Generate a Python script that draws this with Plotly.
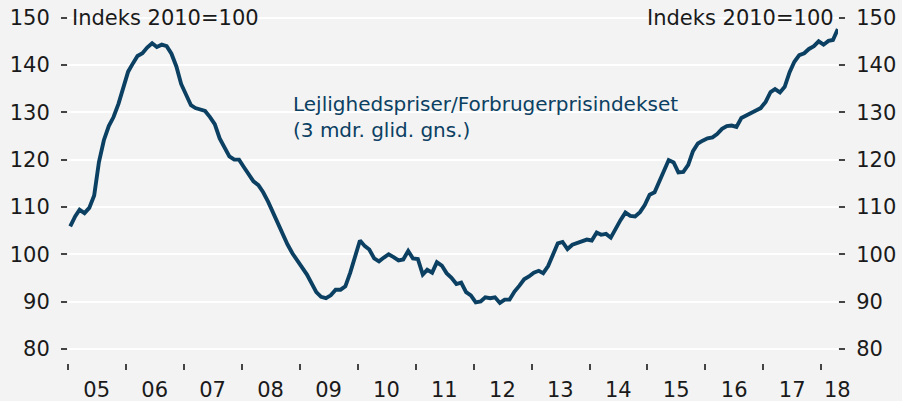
import plotly.graph_objects as go

# Lejlighedspriser / forbrugerprisindekset, 3 mdr. glid. gns., indeks 2010=100
# one value per month, jan 2005 - apr 2018
start_year = 2005
values = [
    105.9, 108.0, 109.4, 108.7, 109.8, 112.4, 119.5, 124.1, 127.1, 129.0, 131.8, 134.9,  # 2005
    138.6, 140.4, 141.9, 142.5, 143.7, 144.6, 143.8, 144.3, 144.0, 142.4, 139.7, 136.0,  # 2006
    133.6, 131.5, 130.9, 130.5, 130.3, 129.0, 127.5, 124.5, 122.5, 120.7, 120.0, 120.0,  # 2007
    118.4, 116.8, 115.4, 114.6, 113.1, 111.1, 108.8, 106.4, 104.3, 102.1, 100.2, 98.6,   # 2008
    97.2, 95.7, 93.8, 92.0, 91.0, 90.7, 91.3, 92.5, 92.5, 93.2, 96.1, 99.6,              # 2009
    102.9, 101.7, 101.0, 99.1, 98.5, 99.3, 100.0, 99.4, 98.7, 98.9, 100.7, 99.1,         # 2010
    99.0, 95.7, 96.7, 96.1, 98.3, 97.6, 96.0, 95.0, 93.7, 94.0, 92.0, 91.3,              # 2011
    89.8, 90.0, 90.9, 90.7, 90.9, 89.7, 90.4, 90.4, 92.1, 93.3, 94.7, 95.3,              # 2012
    96.1, 96.5, 96.0, 97.5, 100.0, 102.3, 102.6, 101.1, 102.0, 102.3, 102.6, 103.1,      # 2013
    102.9, 104.6, 104.1, 104.3, 103.5, 105.5, 107.2, 108.8, 108.1, 108.0, 108.9, 110.4,  # 2014
    112.6, 113.1, 115.1, 117.5, 119.9, 119.4, 117.3, 117.4, 118.9, 121.8, 123.4, 124.0,  # 2015
    124.5, 124.7, 125.4, 126.5, 127.1, 127.2, 126.9, 128.8, 129.4, 130.0, 130.4, 130.9,  # 2016
    132.2, 134.3, 134.9, 134.2, 135.4, 138.5, 140.7, 142.1, 142.5, 143.4, 144.0, 145.0,  # 2017
    144.3, 145.1, 145.3, 147.6,                                                          # 2018
]
dates = ["%d-%02d-15" % (start_year + i // 12, i % 12 + 1) for i in range(len(values))]

year_labels = ["05", "06", "07", "08", "09", "10", "11", "12", "13", "14", "15", "16", "17", "18"]
label_pos = ["%d-07-01" % (2005 + i) for i in range(13)] + ["2018-04-12"]
year_ticks = ["%d-01-01" % y for y in range(2005, 2019)]
y_ticks = [80, 90, 100, 110, 120, 130, 140, 150]

blue = "#0b4062"
bg = "#f3f3f3"
txt = "#1a1a1a"
font = "DejaVu Sans"

fig = go.Figure()
fig.add_trace(go.Scatter(x=dates, y=values, mode="lines",
                         line=dict(color=blue, width=3.9), showlegend=False))
# invisible copy so the right axis is drawn
fig.add_trace(go.Scatter(x=dates, y=values, mode="lines", yaxis="y2",
                         line=dict(color="rgba(0,0,0,0)", width=0),
                         showlegend=False, hoverinfo="skip"))

yax = dict(range=[77, 151], tickvals=y_ticks, showgrid=True, gridcolor="white",
           gridwidth=2, zeroline=False, showline=False, ticks="outside", ticklen=6,
           tickwidth=1.5, tickcolor="#444", ticklabelstandoff=7, automargin=False,
           tickfont=dict(family=font, size=21, color=txt))

fig.update_layout(
    width=902, height=401,
    margin=dict(l=68, r=64, t=13, b=38, autoexpand=False),
    paper_bgcolor=bg, plot_bgcolor=bg,
    xaxis=dict(type="date", range=["2005-01-01", "2018-04-16"], automargin=False,
               tickmode="array", tickvals=label_pos, ticktext=year_labels,
               ticks="outside", ticklen=8, tickcolor="rgba(0,0,0,0)",
               tickfont=dict(family=font, size=21, color=txt),
               showgrid=False, zeroline=False, showline=False,
               minor=dict(tickmode="array", tickvals=year_ticks, ticks="outside",
                          ticklen=6, tickwidth=1.5, tickcolor="#444", showgrid=False)),
    yaxis=yax,
    yaxis2=dict(yax, overlaying="y", side="right", showgrid=False),
    annotations=[
        dict(text="Indeks 2010=100", xref="paper", yref="y", x=0.002, y=150,
             xanchor="left", yanchor="middle", showarrow=False,
             font=dict(family=font, size=21, color=txt)),
        dict(text="Indeks 2010=100", xref="paper", yref="y", x=0.997, y=150,
             xanchor="right", yanchor="middle", showarrow=False,
             font=dict(family=font, size=21, color=txt)),
        dict(text="Lejlighedspriser/Forbrugerprisindekset<br>(3 mdr. glid. gns.)",
             xref="paper", yref="y", x=0.29, y=129, xanchor="left", yanchor="middle",
             align="left", showarrow=False,
             font=dict(family=font, size=20, color=blue)),
    ],
)

# the page body has a default 8px margin; drop it so the chart fills the window
fig.write_html("out.html", config={"displayModeBar": False},
               post_script="document.body.style.margin='0px';")
